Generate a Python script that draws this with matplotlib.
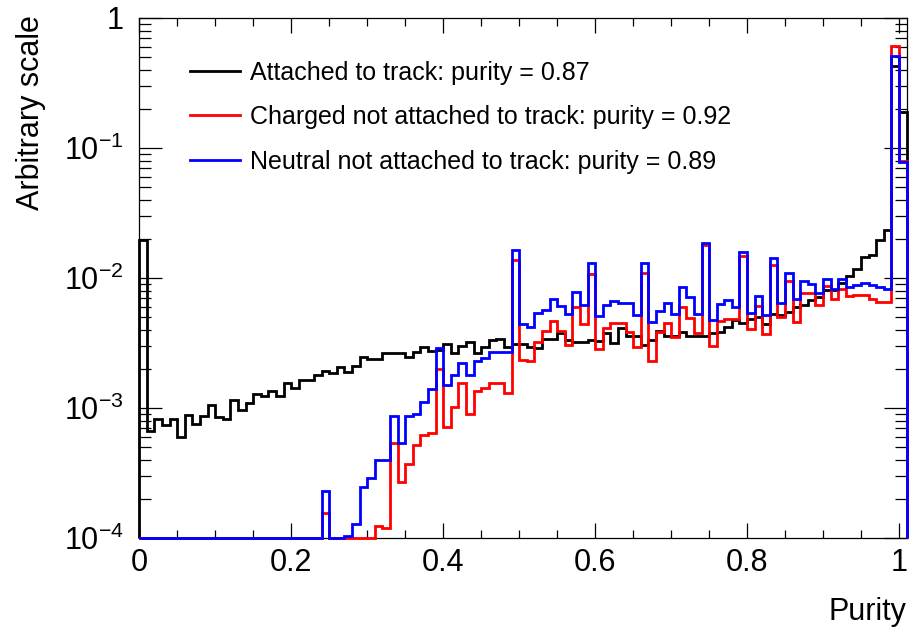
import numpy as np
import matplotlib
matplotlib.use('Agg')
import matplotlib.pyplot as plt
from matplotlib.ticker import MultipleLocator, LogLocator, FuncFormatter, NullFormatter
from matplotlib.lines import Line2D

plt.rcParams['font.family'] = ['Liberation Sans', 'DejaVu Sans']
plt.rcParams['mathtext.fontset'] = 'custom'
plt.rcParams['mathtext.rm'] = 'Liberation Sans'
plt.rcParams['mathtext.it'] = 'Liberation Sans:italic'
plt.rcParams['mathtext.bf'] = 'Liberation Sans:bold'

# 101 bins of width 0.01 from 0 to 1.01
bin_edges = np.linspace(0, 1.01, 102)

attached = [
    0.0196, 6.6e-4, 8.3e-4, 7.4e-4, 8.3e-4, 6.0e-4, 8.9e-4, 7.5e-4, 8.7e-4, 1.05e-3,
    8.6e-4, 8.3e-4, 1.16e-3, 9.7e-4, 1.09e-3, 1.27e-3, 1.24e-3, 1.35e-3, 1.24e-3, 1.55e-3,
    1.43e-3, 1.64e-3, 1.64e-3, 1.79e-3, 1.94e-3, 1.85e-3, 2.08e-3, 1.90e-3, 2.12e-3, 2.48e-3,
    2.37e-3, 2.37e-3, 2.64e-3, 2.64e-3, 2.64e-3, 2.48e-3, 2.68e-3, 2.95e-3, 2.74e-3, 2.80e-3,
    3.13e-3, 2.66e-3, 3.0e-3, 3.2e-3, 2.64e-3, 2.97e-3, 3.34e-3, 3.4e-3, 2.93e-3, 3.11e-3,
    3.11e-3, 2.97e-3, 2.88e-3, 3.4e-3, 3.4e-3, 3.8e-3, 3.34e-3, 3.24e-3, 3.24e-3, 3.34e-3,
    3.26e-3, 3.8e-3, 3.18e-3, 4.1e-3, 3.58e-3, 3.55e-3, 3.05e-3, 3.34e-3, 3.93e-3, 3.6e-3,
    3.6e-3, 3.86e-3, 3.58e-3, 3.58e-3, 3.6e-3, 3.76e-3, 3.86e-3, 4.2e-3, 4.75e-3, 4.5e-3,
    4.8e-3, 5.0e-3, 4.4e-3, 5.3e-3, 5.2e-3, 5.5e-3, 5.95e-3, 6.2e-3, 6.8e-3, 7.1e-3,
    8.1e-3, 8.1e-3, 9.1e-3, 0.0104, 0.0117, 0.0144, 0.015, 0.0196, 0.0234, 0.43,
    0.19,
]

charged = [
    0, 0, 0, 0, 0, 0, 0, 0, 0, 0,
    0, 0, 0, 0, 0, 0, 0, 0, 0, 0,
    0, 0, 0, 0, 1.55e-4, 0, 0, 0, 0, 0,
    0, 1.24e-4, 1.2e-4, 5.35e-4, 2.71e-4, 3.69e-4, 5.19e-4, 6.2e-4, 6.4e-4, 2.0e-3,
    7.1e-4, 1.02e-3, 1.55e-3, 9.0e-4, 1.36e-3, 1.42e-3, 1.55e-3, 1.55e-3, 1.3e-3, 0.0137,
    2.34e-3, 2.3e-3, 3.24e-3, 3.9e-3, 4.7e-3, 3.9e-3, 3.05e-3, 5.95e-3, 4.43e-3, 0.0107,
    2.82e-3, 4.1e-3, 4.5e-3, 4.5e-3, 3.86e-3, 2.96e-3, 0.011, 2.31e-3, 3.86e-3, 4.5e-3,
    3.54e-3, 6.0e-3, 4.9e-3, 3.8e-3, 0.018, 3.0e-3, 4.7e-3, 4.8e-3, 4.8e-3, 0.0148,
    4.03e-3, 6.1e-3, 3.7e-3, 0.0126, 5.0e-3, 9.5e-3, 4.6e-3, 7.7e-3, 7.7e-3, 6.2e-3,
    8.7e-3, 6.9e-3, 8.3e-3, 7.3e-3, 7.4e-3, 7.4e-3, 6.9e-3, 6.5e-3, 6.5e-3, 0.61,
    0.08,
]

neutral = [
    0, 0, 0, 0, 0, 0, 0, 0, 0, 0,
    0, 0, 0, 0, 0, 0, 0, 0, 0, 0,
    0, 0, 0, 0, 2.31e-4, 0, 0, 1.03e-4, 1.28e-4, 2.48e-4,
    2.88e-4, 3.96e-4, 3.96e-4, 8.7e-4, 5.35e-4, 8.7e-4, 9.0e-4, 1.12e-3, 1.40e-3, 2.91e-3,
    1.5e-3, 1.79e-3, 2.21e-3, 1.79e-3, 2.3e-3, 2.41e-3, 2.71e-3, 2.71e-3, 2.71e-3, 0.0164,
    4.4e-3, 4.2e-3, 5.4e-3, 5.7e-3, 6.9e-3, 6.1e-3, 5.3e-3, 7.8e-3, 6.2e-3, 0.0131,
    5.1e-3, 6.2e-3, 6.7e-3, 6.4e-3, 6.4e-3, 5.2e-3, 0.0131, 4.6e-3, 5.6e-3, 6.4e-3,
    5.3e-3, 8.6e-3, 7.1e-3, 5.3e-3, 0.0185, 4.75e-3, 6.3e-3, 6.8e-3, 6.0e-3, 0.0159,
    5.35e-3, 7.3e-3, 5.2e-3, 0.0142, 6.4e-3, 0.0109, 6.9e-3, 9.5e-3, 9.0e-3, 7.7e-3,
    9.9e-3, 8.2e-3, 9.8e-3, 8.6e-3, 8.8e-3, 9.1e-3, 8.8e-3, 8.6e-3, 8.3e-3, 0.51,
    0.0785,
]

labels = ['Attached to track: purity = 0.87',
          'Charged not attached to track: purity = 0.92',
          'Neutral not attached to track: purity = 0.89']
colors = ['black', '#ff0000', '#0000ff']

ymin = 1e-4

fig = plt.figure(figsize=(9.16, 6.29), dpi=100)
ax = fig.add_axes([0.152, 0.1447, 0.8378, 0.8267])

for vals, col in zip([attached, charged, neutral], colors):
    ax.stairs(np.maximum(np.array(vals), ymin), bin_edges, baseline=ymin,
              color=col, lw=2, clip_on=False, zorder=3)

ax.set_yscale('log')
ax.set_xlim(0, 1.01)
ax.set_ylim(ymin, 1)

ax.set_xticks([0, 0.2, 0.4, 0.6, 0.8, 1.0])
ax.set_xticklabels(['0', '0.2', '0.4', '0.6', '0.8', '1'])
ax.xaxis.set_minor_locator(MultipleLocator(0.05))

ax.yaxis.set_major_locator(LogLocator(base=10, numticks=10))
ax.yaxis.set_minor_locator(LogLocator(base=10, subs=np.arange(2, 10), numticks=20))
ax.yaxis.set_minor_formatter(NullFormatter())
ax.yaxis.set_major_formatter(FuncFormatter(
    lambda v, p: '1' if abs(v - 1) < 1e-9 else r'$10^{%d}$' % round(np.log10(v))))

ax.tick_params(which='both', direction='in', top=True, right=True, labelsize=22, width=0.9)
ax.tick_params(axis='x', which='major', length=11, pad=7)
ax.tick_params(axis='x', which='minor', length=5.5)
ax.tick_params(axis='y', which='major', length=16.5, pad=11)
ax.tick_params(axis='y', which='minor', length=8.5)
for s in ax.spines.values():
    s.set_linewidth(0.9)

ax.set_xlabel('Purity', fontsize=22, loc='right')
ax.xaxis.set_label_coords(1.0, -0.113)
ax.set_ylabel('Arbitrary scale', fontsize=22, loc='top')
ax.yaxis.set_label_coords(-0.122, 1.005)

handles = [Line2D([], [], color=c, lw=2) for c in colors]
ax.legend(handles, labels, loc='upper left', bbox_to_anchor=(0.066, 0.918),
          frameon=False, fontsize=18, handlelength=2.0, handletextpad=0.4,
          labelspacing=0.82, borderpad=0, borderaxespad=0)

fig.savefig('out.png', dpi=100)
